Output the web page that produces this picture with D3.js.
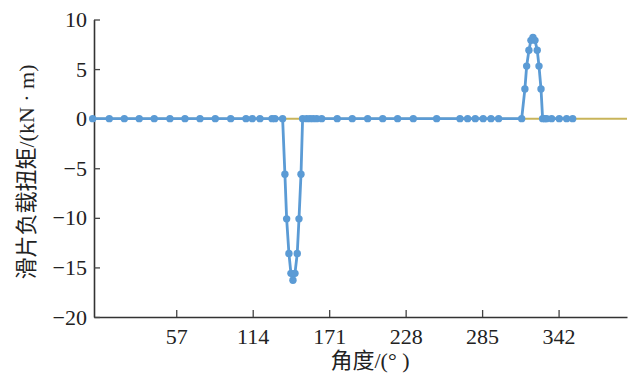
<!DOCTYPE html>
<html>
<head>
<meta charset="utf-8">
<script src="https://cdn.jsdelivr.net/npm/d3@7"></script>
<style>
  body { margin: 0; background: #fff; }
  svg text { font-family: "Times New Roman", "Liberation Serif", "DejaVu Serif", "Noto Sans CJK SC", serif !important; fill: #222; }
</style>
</head>
<body>
<div id="chart"></div>
<script>
// angle (deg) of each sample point
var angles = [-5.3, 7.1, 18.3, 29.4, 40.6, 52.3, 63.5, 74.7, 86.1, 97.6, 109.0, 113.7, 119.4, 128.4, 130.6, 136.3,
    138.0, 139.3, 141.0, 142.5, 144.0, 145.5, 147.2, 148.5, 150.0,
    151.2, 154.2, 156.7, 159.1, 161.7, 165.4, 177.0, 188.2, 199.7, 210.9, 222.0, 233.7, 251.1, 268.5, 274.2,
    279.9, 285.8, 291.6, 297.3, 314.5,
    316.9, 318.2, 319.9, 321.4, 322.9, 324.4, 326.1, 327.4, 328.9,
    330.1, 331.8, 333.1, 336.8, 342.5, 348.0, 352.5];
// vane load torque (kN·m)
var torque = [0, 0, 0, 0, 0, 0, 0, 0, 0, 0, 0, 0, 0, 0, 0, 0,
    -5.6, -10.1, -13.6, -15.6, -16.3, -15.6, -13.6, -10.1, -5.6,
    0, 0, 0, 0, 0, 0, 0, 0, 0, 0, 0, 0, 0, 0, 0,
    0, 0, 0, 0, 0,
    3.0, 5.3, 6.9, 7.9, 8.2, 7.9, 6.9, 5.3, 3.0,
    0, 0, 0, 0, 0, 0, 0];
// zero reference line
var refAngles = [-4.3, 393];
var refTorque = [0, 0];

var xTicks = [57, 114, 171, 228, 285, 342];
var yTicks = [10, 5, 0, -5, -10, -15, -20];

var svgWidth = 634, svgHeight = 389;
var svg = d3.select('#chart').append('svg')
    .attr('width', svgWidth)
    .attr('height', svgHeight);

var x = d3.scaleLinear().domain([-4.3, 393]).range([94, 627]);
var y = d3.scaleLinear().domain([-20, 10]).range([317, 19.5]);

// axes
var xAxis = svg.append('g')
    .attr('transform', 'translate(0,' + y(-20) + ')')
    .call(d3.axisBottom(x).tickValues(xTicks).tickSizeInner(-7).tickSizeOuter(0).tickPadding(11));
var yAxis = svg.append('g')
    .attr('transform', 'translate(' + x(-4.3) + ',0)')
    .call(d3.axisLeft(y).tickValues(yTicks).tickSizeInner(-6).tickSizeOuter(0).tickPadding(7)
        .tickFormat(d => d < 0 ? '\u2212' + Math.abs(d) : d));

[xAxis, yAxis].forEach(function (a) {
    a.attr('font-family', null);
    a.select('.domain').attr('stroke', '#333').attr('stroke-width', 1.6);
    a.selectAll('.tick line').attr('stroke', '#444').attr('stroke-width', 1.3);
    a.selectAll('.tick text').attr('font-size', 22).attr('fill', '#222');
});

// reference line at zero
var ref = refAngles.map((a, i) => ({a: a, v: refTorque[i]}));
svg.append('path')
    .datum(ref)
    .attr('fill', 'none')
    .attr('stroke', '#c8b45a')
    .attr('stroke-width', 2)
    .attr('d', d3.line().x(d => x(d.a)).y(d => y(d.v)));

// data series
var pts = angles.map((a, i) => ({a: a, v: torque[i]}));
svg.append('path')
    .datum(pts)
    .attr('fill', 'none')
    .attr('stroke', '#5b9bd5')
    .attr('stroke-width', 2.8)
    .attr('stroke-linejoin', 'round')
    .attr('d', d3.line().x(d => x(d.a)).y(d => y(d.v)));

svg.selectAll('.pt')
    .data(pts)
    .enter().append('circle')
    .attr('class', 'pt')
    .attr('cx', d => x(d.a))
    .attr('cy', d => y(d.v))
    .attr('r', 3.7)
    .attr('fill', '#5b9bd5');

// axis titles
svg.append('text')
    .attr('transform', 'translate(34,' + 172 + ') rotate(-90)')
    .attr('text-anchor', 'middle')
    .attr('font-size', 22)
    .text('滑片负载扭矩/(kN · m)');

svg.append('text')
    .attr('x', 370)
    .attr('y', 368)
    .attr('text-anchor', 'middle')
    .attr('font-size', 22)
    .text('角度/(° )');
</script>
</body>
</html>
